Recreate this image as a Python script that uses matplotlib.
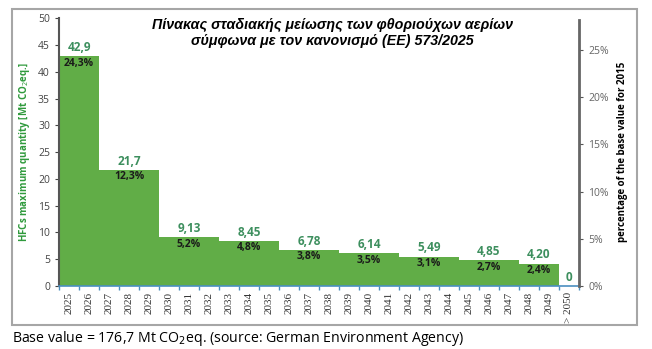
import matplotlib.pyplot as plt
from matplotlib.patches import Rectangle
import numpy as np

# Daten
years = [str(y) for y in range(2025, 2050)] + ['> 2050']
group_start = [0, 2, 5, 8, 11, 14, 17, 20, 23, 25]
group_len = [2, 3, 3, 3, 3, 3, 3, 3, 2, 1]
values = [42.9, 21.7, 9.13, 8.45, 6.78, 6.14, 5.49, 4.85, 4.20, 0]
value_labels = ['42,9', '21,7', '9,13', '8,45', '6,78', '6,14', '5,49', '4,85', '4,20', '0']
pct_labels = ['24,3%', '12,3%', '5,2%', '4,8%', '3,8%', '3,5%', '3,1%', '2,7%', '2,4%', '']

bar_green = '#61ad47'
label_green = '#3d8f5e'

fig = plt.figure(figsize=(6.52, 3.49), dpi=100)
ax = fig.add_axes([0.0905, 0.1805, 0.7975, 0.7675])

# Balken je Jahr aus den Gruppen
heights = []
for s, n, v in zip(group_start, group_len, values):
    heights += [v] * n
x = np.arange(len(years))
ax.bar(x, heights, width=1.0, color=bar_green, edgecolor='none')

for s, n, v, vl, pl in zip(group_start, group_len, values, value_labels, pct_labels):
    xc = s + (n - 1) / 2
    ax.text(xc, v + 0.4, vl, ha='center', va='bottom', color=label_green,
            fontsize=8.5, fontweight='bold', family='Open Sans')
    if pl:
        ax.text(xc, v - 0.3, pl, ha='center', va='top', color='#1a1a1a',
                fontsize=7.5, fontweight='bold', family='Open Sans')

ax.set_xlim(-0.5, len(years) - 0.5)
ax.set_ylim(0, 50)
ax.set_yticks(range(0, 51, 5))
ax.set_xticks(x)
ax.set_xticklabels(years, rotation=90, fontsize=8, family='Liberation Serif')
ax.set_xticks(np.arange(-0.5, len(years), 1), minor=True)
ax.tick_params(axis='x', which='major', length=0, pad=4, colors='#333333')
ax.tick_params(axis='x', which='minor', length=3, color='#4a8fc0', width=1)
ax.tick_params(axis='y', length=3, color='#444444', labelsize=7.5, labelcolor='#444444')
for t in ax.get_yticklabels():
    t.set_family('Open Sans')

ax.spines['top'].set_visible(False)
ax.spines['right'].set_visible(False)
ax.spines['left'].set_color('#555555')
ax.spines['left'].set_linewidth(1.5)
ax.spines['bottom'].set_color('#4a8fc0')
ax.spines['bottom'].set_linewidth(1.2)

ax.set_ylabel('HFCs maximum quantity [Mt CO$_2$eq.]', color='#2f9a3c',
              fontsize=7, fontweight='bold', family='Open Sans', labelpad=4)

ax2 = ax.twinx()
ax2.set_ylim(0, 25 * 268 / 236)
ax2.set_yticks(range(0, 26, 5))
ax2.set_yticklabels([f'{p}%' for p in range(0, 26, 5)], fontsize=7.5,
                    color='#666666', family='Open Sans')
ax2.tick_params(axis='y', length=3, color='#555555')
for side in ['top', 'left', 'bottom']:
    ax2.spines[side].set_visible(False)
ax2.spines['right'].set_color('#666666')
ax2.spines['right'].set_linewidth(2)
ax2.spines['right'].set_bounds(0, 28.2)
ax2.set_ylabel('percentage of the base value for 2015', fontsize=7,
               fontweight='bold', family='Open Sans', labelpad=6)

fig.text(0.51, 1 - 33 / 349, 'Πίνακας σταδιακής μείωσης των φθοριούχων αερίων\nσύμφωνα με τον κανονισμό (ΕΕ) 573/2025',
         ha='center', va='center', fontsize=10.3, fontweight='bold', style='italic',
         family='Liberation Sans', linespacing=1.2)

# Rahmen
fig.add_artist(Rectangle((12 / 652, 1 - 325 / 349), 625 / 652, 316 / 349,
                         transform=fig.transFigure, fill=False,
                         edgecolor='#a6a6a6', linewidth=1.5))

fig.text(12 / 652, 1 - 338 / 349, 'Base value = 176,7 Mt CO$_2$eq. (source: German Environment Agency)',
         ha='left', va='center', fontsize=10.2, family='Open Sans')

fig.savefig('out.png', dpi=100)
